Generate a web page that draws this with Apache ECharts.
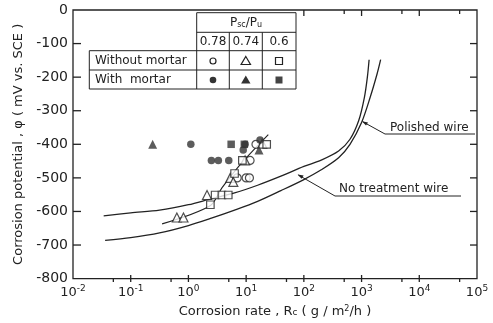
<!DOCTYPE html>
<html>
<head>
<meta charset="utf-8">
<script src="https://cdn.jsdelivr.net/npm/echarts@6/dist/echarts.min.js"></script>
<style>
  html, body { margin: 0; padding: 0; background: #fff; }
  #chart { width: 493px; height: 323px; }
</style>
</head>
<body>
<div id="chart"></div>
<script>
// curves: corrosion rate (g/m2/h) vs potential (mV vs SCE)
const noTreatRate = [0.034, 0.1, 0.316, 1, 2.5, 6.3, 15.8, 40, 100, 200, 400, 630, 890, 1120, 1260, 1350]
const noTreatPot = [-613, -604, -596, -580, -562, -545, -522, -495, -466, -447, -420, -385, -330, -260, -200, -148]
const polishedRate = [0.036, 0.1, 0.316, 1, 2.5, 6.3, 15.8, 40, 100, 200, 400, 630, 1000, 1410, 1860, 2140]
const polishedPot = [-686, -678, -664, -642, -620, -596, -570, -538, -505, -476, -440, -400, -335, -260, -190, -148]

// fitted line through the measured points
const fitRate = [0.35, 2.37, 3.83, 7.8, 14.3, 24.2]
const fitPot = [-637, -583, -529, -461, -412, -371]

// measured points, without mortar (open) / with mortar (filled)
const openCircle = [[14.8, -400], [11.7, -448], [7.0, -500], [10.0, -500], [11.4, -500]]
const openTriangle = [[19, -398], [9.6, -448], [5.3, -500], [6.0, -512], [2.1, -551], [0.63, -618], [0.82, -618]]
const openSquare = [[22.7, -400], [8.6, -448], [6.3, -487], [2.9, -551], [3.8, -551], [4.9, -551], [2.4, -580]]
const fullCircle = [[1.1, -400], [9.6, -400], [8.9, -417], [17.4, -387], [2.5, -448], [3.3, -448], [5.0, -448]]
const fullTriangle = [[0.24, -400], [16.7, -417]]
const fullSquare = [[5.5, -400], [9.3, -400]]

// tick positions
const majorX = [0.1, 1, 10, 100, 1000, 10000]
const minorX = [0.05, 0.5, 5, 50, 500, 5000, 50000]
const topMajorX = [100, 1000, 10000]
const topMinorX = [500, 5000, 50000]
const ticksY = [-100, -200, -300, -400, -500, -600, -700]

const ink = '#222'
const font = 'DejaVu Sans'

function zip(xs, ys) {
  return xs.map((x, i) => [x, ys[i]])
}

function line(x1, y1, x2, y2) {
  return { type: 'line', shape: { x1, y1, x2, y2 }, style: { stroke: ink, lineWidth: 1 }, silent: true }
}
function text(x, y, t, align, rich) {
  return {
    type: 'text', x, y, silent: true,
    style: { text: t, font: '12px ' + font, fill: ink, align: align || 'left', verticalAlign: 'middle', rich: rich }
  }
}

const graphic = [
  // table
  line(196.7, 12.7, 296, 12.7),
  line(196.7, 32.3, 296, 32.3),
  line(89.3, 50.7, 296, 50.7),
  line(89.3, 70, 296, 70),
  line(89.3, 89, 296, 89),
  line(196.7, 12.7, 196.7, 89),
  line(296, 12.7, 296, 89),
  line(229.3, 32.3, 229.3, 89),
  line(262.3, 32.3, 262.3, 89),
  line(89.3, 50.7, 89.3, 89),
  text(246, 22.5, '{a|P}{s|sc}{a|/P}{s|u}', 'center', {
    a: { fontSize: 12, fontFamily: font, fill: ink },
    s: { fontSize: 8, fontFamily: font, fill: ink, padding: [5, 0, 0, 0] }
  }),
  text(213, 41.5, '0.78', 'center'),
  text(245.8, 41.5, '0.74', 'center'),
  text(279, 41.5, '0.6', 'center'),
  text(95, 61, 'Without mortar'),
  text(95, 80, 'With  mortar'),
  { type: 'circle', shape: { cx: 213, cy: 61, r: 3 }, style: { fill: '#fff', stroke: ink, lineWidth: 1.2 } },
  { type: 'polygon', shape: { points: [[245.8, 56.5], [250.5, 64.5], [241.1, 64.5]] }, style: { fill: '#fff', stroke: ink, lineWidth: 1.2 } },
  { type: 'rect', shape: { x: 275.5, y: 57.5, width: 7, height: 7 }, style: { fill: '#fff', stroke: ink, lineWidth: 1.2 } },
  { type: 'circle', shape: { cx: 213, cy: 80, r: 3.3 }, style: { fill: '#333' } },
  { type: 'polygon', shape: { points: [[245.8, 75.5], [250.5, 83.5], [241.1, 83.5]] }, style: { fill: '#333' } },
  { type: 'rect', shape: { x: 275.5, y: 76.5, width: 7, height: 7 }, style: { fill: '#444' } },
  // annotations
  line(362.7, 121.7, 385, 134),
  line(385, 134, 475, 134),
  { type: 'polygon', shape: { points: [[362, 121.3], [368, 122.5], [366, 125.5]] }, style: { fill: ink } },
  text(390, 127.5, 'Polished wire'),
  line(298.3, 175, 335, 196),
  line(335, 196, 461, 196),
  { type: 'polygon', shape: { points: [[297.6, 174.6], [303.6, 175.6], [301.6, 178.8]] }, style: { fill: ink } },
  text(339, 189, 'No treatment wire')
]

function curve(name, data, width) {
  return {
    name, type: 'line', data, smooth: 0.3, showSymbol: false, silent: true,
    lineStyle: { color: ink, width: width || 1.3 }, z: 2
  }
}
function points(data, symbol, filled, size) {
  return {
    type: 'scatter', data, symbol, symbolSize: size || 8, silent: true, z: 3,
    itemStyle: filled ? { color: '#333' } : { color: '#fff', borderColor: ink, borderWidth: 1.2 }
  }
}

const gridBox = { left: 73, right: 16, top: 10, bottom: 41 }

const chart = echarts.init(document.getElementById('chart'))
chart.setOption({
  animation: false,
  grid: Object.assign({ show: true, borderColor: ink, borderWidth: 1.3 }, gridBox),
  xAxis: {
    type: 'log', logBase: 10, min: 0.01, max: 100000,
    axisLine: { show: false }, axisTick: { show: false }, splitLine: { show: false },
    axisLabel: {
      margin: 6,
      formatter: v => '{b|10}{s|' + Math.round(Math.log10(v)) + '}',
      rich: {
        b: { fontSize: 13, fontFamily: font, color: ink },
        s: { fontSize: 9, fontFamily: font, color: ink, padding: [0, 0, 8, 0] }
      }
    },
    name: '{t|Corrosion rate , R}{c|c}{t| ( g / m}{p|2}{t|/h )}',
    nameLocation: 'middle', nameGap: 22,
    nameTextStyle: {
      rich: {
        t: { fontSize: 13, fontFamily: font, color: ink },
        c: { fontSize: 9, fontFamily: font, color: ink, padding: [3, 0, 0, 0] },
        p: { fontSize: 8, fontFamily: font, color: ink, padding: [0, 0, 6, 0] }
      }
    }
  },
  yAxis: {
    type: 'value', min: -800, max: 0, interval: 100,
    axisLine: { show: false }, axisTick: { show: false }, splitLine: { show: false },
    axisLabel: { fontSize: 14, fontFamily: font, color: ink, margin: 5 },
    name: 'Corrosion potential , φ ( mV vs. SCE )',
    nameLocation: 'middle', nameGap: 45, nameRotate: 90,
    nameTextStyle: { fontSize: 13, fontFamily: font, color: ink }
  },
  series: [
    curve('No treatment wire', zip(noTreatRate, noTreatPot)),
    curve('Polished wire', zip(polishedRate, polishedPot)),
    curve('fit', zip(fitRate, fitPot), 1.1),
    points(openCircle, 'circle', false, 8),
    points(openTriangle, 'triangle', false, 9),
    points(openSquare, 'rect', false, 7.5),
    points(fullCircle, 'circle', true, 7.5),
    points(fullTriangle, 'triangle', true, 9),
    points(fullSquare, 'rect', true, 7.5)
  ]
})

// inward tick marks, placed through the axis scales
const plotLeft = gridBox.left
const plotRight = 493 - gridBox.right
const plotTop = gridBox.top
const plotBottom = 323 - gridBox.bottom
const tickLines = []
function xTicks(values, y0, dir, len) {
  values.forEach(v => {
    const x = chart.convertToPixel({ xAxisIndex: 0 }, v)
    tickLines.push(line(x, y0, x, y0 + dir * len))
  })
}
function yTicks(values, x0, dir, len) {
  values.forEach(v => {
    const y = chart.convertToPixel({ yAxisIndex: 0 }, v)
    tickLines.push(line(x0, y, x0 + dir * len, y))
  })
}
xTicks(majorX, plotBottom, -1, 7)
xTicks(minorX, plotBottom, -1, 4)
xTicks(topMajorX, plotTop, 1, 6)
xTicks(topMinorX, plotTop, 1, 4)
yTicks(ticksY, plotLeft, 1, 8)
yTicks(ticksY, plotRight, -1, 7)
tickLines.forEach(t => { t.style.lineWidth = 1.3 })

chart.setOption({ graphic: graphic.concat(tickLines) })
</script>
</body>
</html>
